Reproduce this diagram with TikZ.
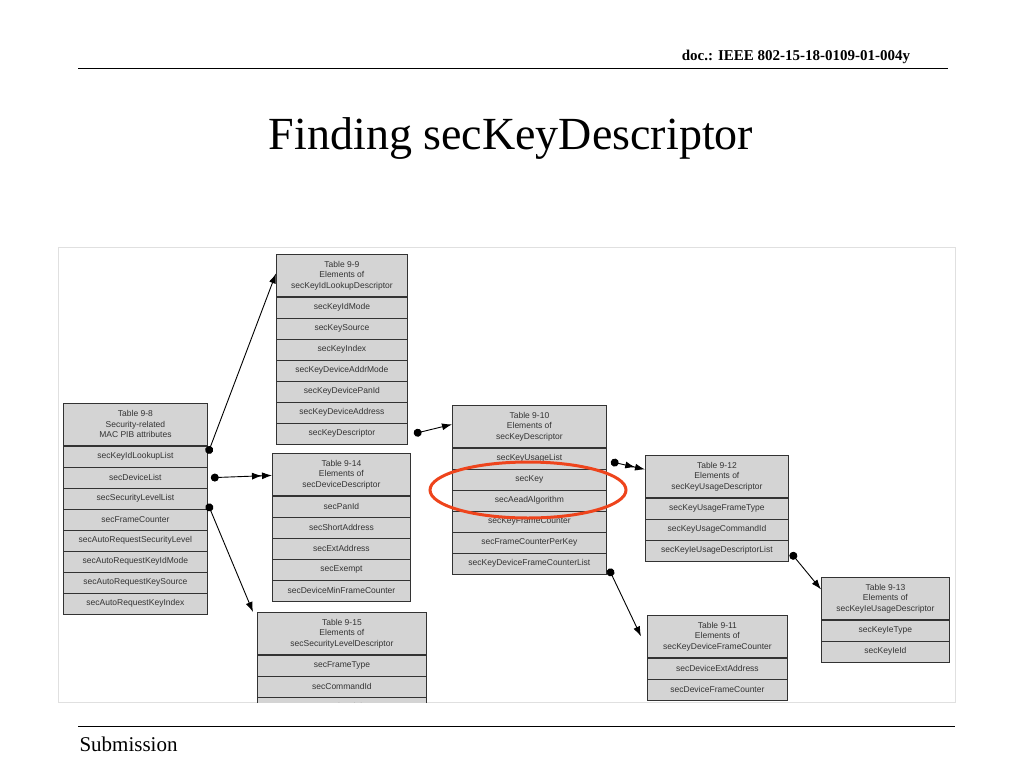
\documentclass[tikz,border=0pt]{standalone}
\usepackage{fontspec}
\setmainfont{Liberation Serif}
\setsansfont{Liberation Sans}
\usetikzlibrary{arrows.meta,calc}
\begin{document}
\begin{tikzpicture}[x=1pt,y=-1pt,
  cell/.style={draw=black!80,line width=0.8pt,fill=black!17,inner sep=0pt,font=\sffamily\fontsize{8.5}{10.5}\selectfont,text=black!80,align=center},
  hdr/.style={cell,minimum height=42pt},
  rowc/.style={cell,minimum height=21pt},
  edge/.style={line width=0.9pt,{Circle[length=8pt]}-{Latex[length=10pt,width=7pt]}},
  edge2/.style={line width=0.9pt,{Circle[length=8pt]}-{Latex[length=10pt,width=7pt]Latex[length=10pt,width=7pt]}}]
\newcommand\tbl[6]{%
  \node[hdr,minimum width=#3pt,anchor=north west] (#1) at (#2,#4) {#5};
  \foreach \r [count=\i] in {#6} {
    \node[rowc,minimum width=#3pt,anchor=north west] (#1-\i) at ($(#1.south west)+(0,{(\i-1)*21})$) {\r};
  }}
\useasboundingbox (0,0) rectangle (1024,768);
\node (doc) at (796,57) {\fontsize{15}{17}\selectfont\bfseries doc.: IEEE 802-15-18-0109-01-004y};
\draw[line width=0.8pt] (78,68) coordinate (r1) -- (948,68) coordinate (r2);
\node (title) at (511,139) {\fontsize{46}{50}\selectfont Finding secKeyDescriptor};
\draw[line width=0.8pt] (78,726) coordinate (r3) -- (955,726) coordinate (r4);
\node[anchor=west] (sub) at (76,744) {\fontsize{21}{24}\selectfont Submission};
\draw[black!12] (58,247) rectangle (955,702);
\begin{scope}
\clip (58,247) rectangle (955,702);
\tbl{t98}{63}{144}{403}{Table 9-8\\Security-related\\MAC PIB attributes}{secKeyIdLookupList,secDeviceList,secSecurityLevelList,secFrameCounter,secAutoRequestSecurityLevel,secAutoRequestKeyIdMode,secAutoRequestKeySource,secAutoRequestKeyIndex}
\tbl{t99}{276}{131}{254}{Table 9-9\\Elements of\\secKeyIdLookupDescriptor}{secKeyIdMode,secKeySource,secKeyIndex,secKeyDeviceAddrMode,secKeyDevicePanId,secKeyDeviceAddress,secKeyDescriptor}
\tbl{t910}{452}{154}{405}{Table 9-10\\Elements of\\secKeyDescriptor}{secKeyUsageList,secKey,secAeadAlgorithm,secKeyFrameCounter,secFrameCounterPerKey,secKeyDeviceFrameCounterList}
\tbl{t914}{272}{138}{453}{Table 9-14\\Elements of\\secDeviceDescriptor}{secPanId,secShortAddress,secExtAddress,secExempt,secDeviceMinFrameCounter}
\tbl{t915}{257}{169}{612}{Table 9-15\\Elements of\\secSecurityLevelDescriptor}{secFrameType,secCommandId,secSecurityMinimum}
\tbl{t912}{645}{143}{455}{Table 9-12\\Elements of\\secKeyUsageDescriptor}{secKeyUsageFrameType,secKeyUsageCommandId,secKeyIeUsageDescriptorList}
\tbl{t911}{647}{140}{615}{Table 9-11\\Elements of\\secKeyDeviceFrameCounter}{secDeviceExtAddress,secDeviceFrameCounter}
\tbl{t913}{821}{128}{577}{Table 9-13\\Elements of\\secKeyIeUsageDescriptor}{secKeyIeType,secKeyIeId}
\draw[edge] ($(t98-1.east)+(0,-3)$) -- ($(t99.west)+(0,-2)$);
\draw[edge2] ($(t98-2.east)+(3,0)$) -- ($(t914.west)+(0,1)$);
\draw[edge] ($(t98-3.east)+(0,5)$) -- ($(t915.north west)+(-4,0)$);
\draw[edge] ($(t99-7.east)+(6,0)$) -- ($(t910.west)+(0,-2)$);
\draw[edge2] ($(t910-1.east)+(4,3)$) -- ($(t912.west)+(0,-7)$);
\draw[edge] ($(t910-6.east)+(2,5)$) -- ($(t911.west)+(-6,0)$);
\draw[edge] ($(t912-3.east)+(2,2)$) -- ($(t913.west)+(0,-9)$);
\draw[line width=3pt,color={rgb,255:red,238;green,68;blue,28}] (528,490) ellipse (98 and 28);
\end{scope}
\end{tikzpicture}
\end{document}
